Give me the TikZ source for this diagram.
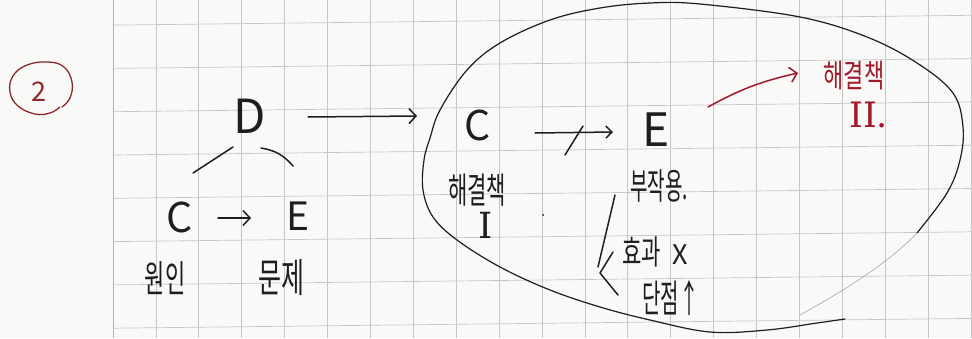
\documentclass[tikz,border=0pt]{standalone}
\usepackage{fontspec}
\newfontfamily\kr{Noto Sans CJK KR}
\newfontfamily\numf{DejaVu Serif}
\usetikzlibrary{arrows.meta,calc}
\definecolor{ink}{HTML}{1E1E1E}
\definecolor{redink}{HTML}{A3182A}
\definecolor{circink}{HTML}{8A2A2A}
\definecolor{paper}{HTML}{F9F9F7}
\definecolor{gridc}{HTML}{C6C6C6}
\newcommand\hand[3]{\kr\fontsize{#1}{#1}\selectfont\scalebox{1}[#2]{#3}}
\newcommand\handnum[3]{\numf\fontsize{#1}{#1}\selectfont\scalebox{#2}[1]{#3}}
\begin{document}
\begin{tikzpicture}[x=1pt,y=-1pt,
  letter/.style={inner sep=0pt, text=ink, font=\kr\fontsize{#1}{#1}\selectfont},
  hw/.style={inner sep=0pt, text=ink},
  pen/.style={draw=ink, line width=1.5pt, line cap=round, line join=round},
  redpen/.style={draw=redink, line width=1.5pt, line cap=round, line join=round},
  barb/.style={-{Straight Barb[length=7pt,width=15pt]}},
  smallbarb/.style={-{Straight Barb[length=6pt,width=12pt]}},
  gridline/.style={draw=gridc, line width=0.7pt},
  bigloop/.style={draw=ink, line width=1.2pt, line cap=round},
  fadeloop/.style={draw=gray!70, line width=0.6pt, line cap=round}]
\useasboundingbox (0,0) rectangle (972,338);
\fill[paper] (0,0) rectangle (972,338);
% grid
\foreach \k in {0,...,7} \draw[gridline] (113,{25.1+43.3*\k}) -- (972,{15.3+43.3*\k});
\foreach \j in {1,...,20} \draw[gridline] ({113+42.9*\j},0) -- ({113+42.9*\j},338);
\draw[draw=gray!60, line width=0.9pt] (113,0) -- (113,338);

% circled 2
\node[inner sep=0pt, text=circink, font=\kr\fontsize{27}{27}\selectfont] (two) at (39,92) {2};
\draw[draw=circink, line width=1.3pt, line cap=round, line join=round]
  plot[smooth, tension=0.7] coordinates {(60,107) (50,113) (35,114) (18,106) (10,92) (13,76)
  (27,65) (48,62) (64,67) (72,82) (70,98) (62,107)};

% left cluster
\node[letter=47] (D) at (250,116) {D};
\node[letter=41] (C1) at (180,217) {C};
\node[letter=39] (E1) at (298,216) {E};
\node[hw] (cause) at (165,278) {\hand{22}{1.7}{원인}};
\node[hw] (prob) at (281,278) {\hand{25}{1.6}{문제}};
\draw[pen] ($(D.center)+(-57,57)$) -- ($(D.center)+(-17,31)$);
\draw[pen] ($(D.center)+(11,32)$) to[bend left=20] ($(D.center)+(43,50)$);
\draw[pen,barb] ($(C1.center)+(38,1)$) -- ($(E1.center)+(-47,2)$);

% arrow to loop
\coordinate (loopW) at (417,116);
\draw[pen,barb] ($(D.center)+(58,1)$) -- (loopW);

% loop
\draw[bigloop] plot[smooth, tension=0.6] coordinates {(845,319) (817,323) (767,330) (710,332)
  (650,320) (600,307) (550,290) (500,267) (457,240) (433,217) (423,190) (424,160) (430,138)
  (440,110) (467,70) (500,43) (550,20) (600,8) (650,3) (700,4) (800,17) (867,37) (917,63)
  (953,93) (963,127) (960,160) (947,193) (917,233)};
\draw[fadeloop] (917,233) .. controls (895,256) and (860,282) .. (800,315);

% inside loop
\node[letter=41] (C2) at (478,125) {C};
\node[letter=46] (E2) at (656,130) {E};
\draw[pen,smallbarb] ($(C2.center)+(57,8)$) -- ($(E2.center)+(-43,2)$);
\draw[pen] ($(C2.center)+(87,30)$) -- ($(C2.center)+(105,1)$);
\node[hw] (sol1) at (477,190) {\hand{21}{1.7}{해결책}};
\node[hw] (sol1n) at (486,225) {\handnum{36}{1}{I}};
\fill[ink] (543,215) circle (1pt);

\node[hw, anchor=west] (side) at (630,186) {\hand{19}{1.9}{부작용.}};
\node[hw, anchor=west] (noeff) at (622,252) {\hand{21}{1.6}{효과}};
\node[letter=27] (xmark) at (680,255) {X};
\node[hw, anchor=west] (cons) at (642,298) {\hand{20}{1.9}{단점↑}};
\draw[pen] ($(side.west)+(-15,9)$) -- ($(side.west)+(-32,81)$);
\draw[pen] ($(side.west)+(-17,66)$) -- ($(side.west)+(-30,87)$) -- ($(side.west)+(-12,109)$);

% red
\node[hw, text=redink] (sol2) at (854,76) {\hand{22}{1.45}{해결책}};
\node[hw, text=redink, anchor=west] (sol2n) at (849,115) {\handnum{35}{1}{II.}};
\draw[redpen,barb] ($(E2.center)+(52,-23)$) to[bend left=8] ($(sol2.center)+(-56,-3)$);
\end{tikzpicture}
\end{document}
